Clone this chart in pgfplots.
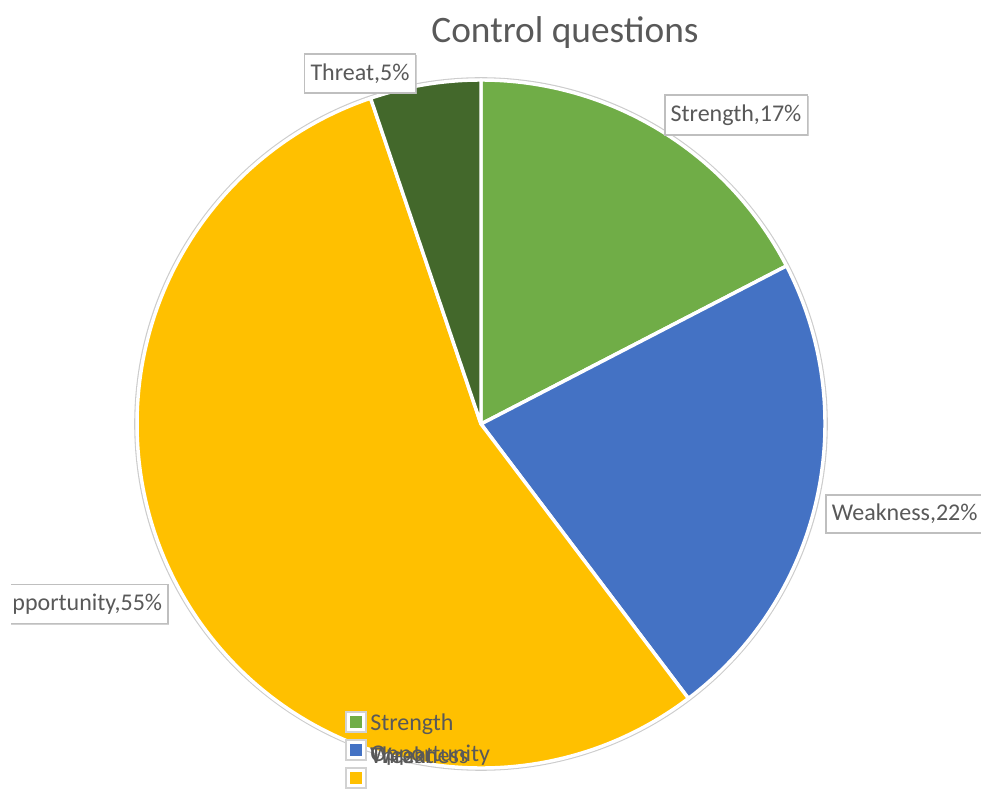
\documentclass[border=0pt]{standalone}
\usepackage{pgfplots}
\pgfplotsset{compat=1.18}
\usepackage{pgfplotstable}
\usetikzlibrary{shadows}
\usepackage{fontspec}
\setmainfont{Carlito}
\definecolor{cS}{HTML}{70AD47}
\definecolor{cW}{HTML}{4472C4}
\definecolor{cO}{HTML}{FFC000}
\definecolor{cT}{HTML}{43682B}
\definecolor{txt}{HTML}{595959}
\definecolor{bx}{HTML}{BFBFBF}

\pgfplotstableread{
label value color
Strength 17.4 cS
Weakness 22.3 cW
Opportunity 55.1 cO
Threat 5.2 cT
}\piedata

\def\cum{0}
\pgfplotsforeachungrouped \i in {0,...,3}{%
  \pgfplotstablegetelem{\i}{value}\of\piedata
  \let\v\pgfplotsretval
  \pgfmathsetmacro\start{90-3.6*\cum}%
  \pgfmathsetmacro\cum{\cum+\v}%
  \pgfmathsetmacro\stop{90-3.6*\cum}%
  \expandafter\xdef\csname st\i\endcsname{\start}%
  \expandafter\xdef\csname en\i\endcsname{\stop}%
  \pgfplotstablegetelem{\i}{color}\of\piedata
  \expandafter\xdef\csname col\i\endcsname{\pgfplotsretval}%
}

\begin{document}
\begin{tikzpicture}
\begin{axis}[scale only axis, width=735.75pt, height=591.75pt,
  xmin=0, xmax=981, ymin=0, ymax=789, hide axis, clip=false]
  \coordinate (bl) at (axis cs:0,0);
  \coordinate (tr) at (axis cs:981,789);
  \draw[bx!80, line width=1.2pt] (axis cs:481,365) circle[radius=259.5pt];
  \pgfplotsinvokeforeach{0,...,3}{
    \fill[fill=\csname col#1\endcsname, draw=white, line width=2.6pt, line join=round]
      (axis cs:481,365) -- (axis cs:{481+344*cos(\csname st#1\endcsname)},{365+344*sin(\csname st#1\endcsname)})
      arc[start angle=\csname st#1\endcsname, end angle=\csname en#1\endcsname, radius=258pt] -- cycle;
  }
  % title
  \node[font=\fontsize{28}{34}\selectfont, text=txt] at (axis cs:565,756) {Control questions};
  % data labels
  \tikzset{lab/.style={draw=bx, line width=1.3pt, fill=white, text=txt, font=\fontsize{18}{21}\selectfont, inner xsep=4.5pt, inner ysep=7pt,
     drop shadow={shadow xshift=0.9pt, shadow yshift=-0.9pt, fill=gray!45, opacity=0.8}}}
  \node[lab] at (axis cs:360,715.5) {Threat,5\%};
  \node[lab] at (axis cs:736,674) {Strength,17\%};
  \node[lab, anchor=west] at (axis cs:825,275) {Weakness,22\%};
  \begin{scope}
    \clip (axis cs:11,0) rectangle (axis cs:981,789);
    \node[lab, anchor=east] at (axis cs:169,185) {Opportunity,55\%};
    \fill[white] (axis cs:11,170) rectangle (axis cs:13.5,200);
  \end{scope}
  % legend
  \tikzset{lsq/.style={draw=white, line width=1.5pt, minimum size=10.5pt, inner sep=0pt},
           lsqo/.style={draw=bx!70, line width=0.8pt, minimum size=15pt, inner sep=0pt, fill=white},
           ltx/.style={anchor=west, text=txt, font=\fontsize{18}{21}\selectfont, inner sep=0pt}}
  \node[lsqo] at (axis cs:356,11) {};
  \node[lsq, fill=cO] at (axis cs:356,11) {};
  \node[lsqo] at (axis cs:356,39) {};
  \node[lsq, fill=cT] at (axis cs:356,39) {};
  \node[lsq, fill=cW] at (axis cs:356,39) {};
  \node[lsqo] at (axis cs:356,67) {};
  \node[lsq, fill=cS] at (axis cs:356,67) {};
  \node[ltx] at (axis cs:370,65) {Strength};
  \node[ltx] at (axis cs:370,34) {Weakness};
  \node[ltx] at (axis cs:370,34) {Threat};
  \node[ltx] at (axis cs:370,34) {Opportunity};
\end{axis}
\pgfresetboundingbox
\useasboundingbox (bl) rectangle (tr);
\end{tikzpicture}
\end{document}
